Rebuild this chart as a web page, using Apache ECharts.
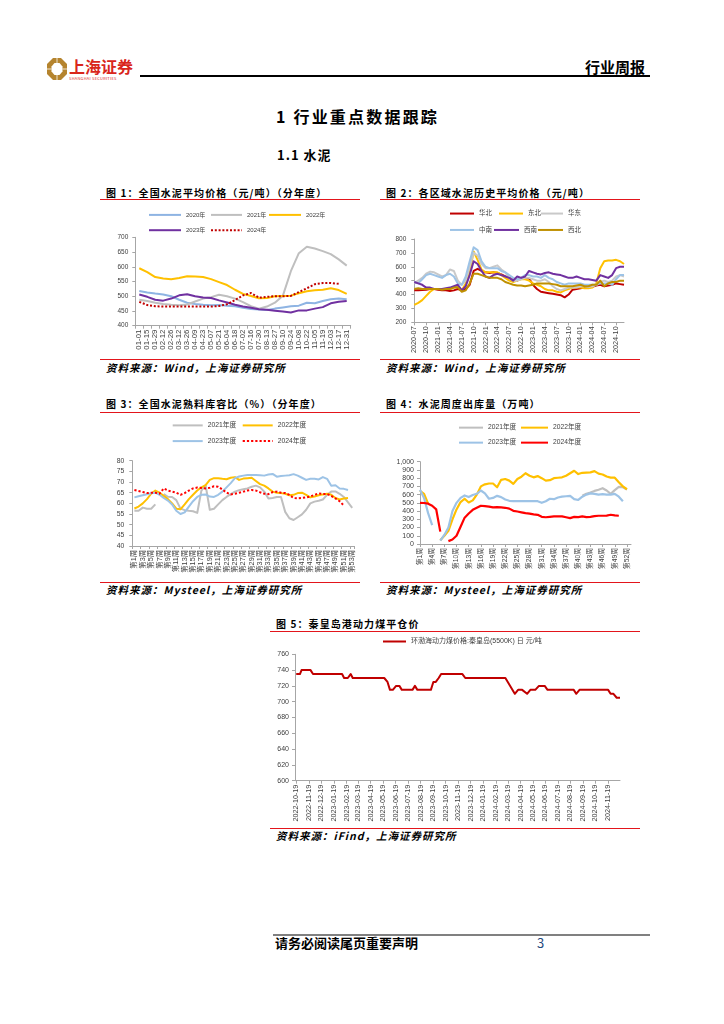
<!DOCTYPE html>
<html><head><meta charset="utf-8">
<script src="https://cdn.jsdelivr.net/npm/echarts@6/dist/echarts.min.js"></script>
<style>
html,body{margin:0;padding:0;background:#fff;}
body{width:724px;height:1024px;position:relative;overflow:hidden;font-family:"Noto Sans CJK SC","Noto Sans",sans-serif;color:#000;}
.t{position:absolute;white-space:nowrap;}
.cap{font-size:10px;font-weight:700;letter-spacing:1.1px;line-height:12px;}
.src{font-size:10.5px;font-weight:700;font-style:italic;letter-spacing:1px;line-height:12px;}
.rl{position:absolute;height:1px;background:#E3151B;}
.ch{position:absolute;}
</style></head><body>

<!-- header -->
<svg class="t" style="left:46px;top:57px" width="22" height="24" viewBox="0 0 22 24">
  <polygon points="7,1 15,1 21,7 21,17 15,23 7,23 1,17 1,7" fill="#B5842E"/>
  <polygon points="8.5,6 13.5,6 16.5,9.5 16.5,14.5 13.5,18 8.5,18 5.5,14.5 5.5,9.5" fill="#fff"/>
  <line x1="11" y1="1" x2="11" y2="6" stroke="#fff" stroke-width="0.8"/>
  <line x1="11" y1="18" x2="11" y2="23" stroke="#fff" stroke-width="0.8"/>
  <line x1="1" y1="12" x2="5.5" y2="12" stroke="#fff" stroke-width="0.8"/>
  <line x1="16.5" y1="12" x2="21" y2="12" stroke="#fff" stroke-width="0.8"/>
</svg>
<div class="t" style="left:69px;top:57px;font-size:16px;font-weight:700;color:#D9261C;line-height:18px;letter-spacing:0px">上海证券</div>
<div class="t" style="left:69px;top:75.5px;font-size:8px;color:#D9261C;line-height:8px;transform:scale(0.5);transform-origin:left top;letter-spacing:0.5px">SHANGHAI SECURITIES</div>
<div class="t" style="left:140px;top:75px;width:510px;height:2px;background:#000"></div>
<div class="t" style="left:585px;top:58px;font-size:15px;font-weight:700;line-height:18px">行业周报</div>

<!-- titles -->
<div class="t" style="left:276px;top:106px;font-size:16px;font-weight:700;line-height:20px;letter-spacing:2.2px">1 行业重点数据跟踪</div>
<div class="t" style="left:277px;top:147px;font-size:13px;font-weight:700;line-height:16px;letter-spacing:1px">1.1 水泥</div>

<!-- chart 1 frame -->
<div class="t cap" style="left:106px;top:186.5px">图 1：全国水泥平均价格（元/吨）（分年度）</div>
<div class="rl" style="left:100px;top:199px;width:260px"></div>
<div class="rl" style="left:100px;top:359px;width:260px"></div>
<div class="t src" style="left:106px;top:362px">资料来源：Wind，上海证券研究所</div>
<div id="c1" class="ch" style="left:100px;top:202px;width:260px;height:157px"></div>

<!-- chart 2 frame -->
<div class="t cap" style="left:386px;top:186.5px">图 2：各区域水泥历史平均价格（元/吨）</div>
<div class="rl" style="left:380px;top:199px;width:260px"></div>
<div class="rl" style="left:380px;top:359px;width:260px"></div>
<div class="t src" style="left:386px;top:362px">资料来源：Wind，上海证券研究所</div>
<div id="c2" class="ch" style="left:380px;top:202px;width:260px;height:157px"></div>

<!-- chart 3 frame -->
<div class="t cap" style="left:106px;top:398px">图 3：全国水泥熟料库容比（%）（分年度）</div>
<div class="rl" style="left:100px;top:411.5px;width:260px"></div>
<div class="rl" style="left:100px;top:581.5px;width:260px"></div>
<div class="t src" style="left:106px;top:584px">资料来源：Mysteel，上海证券研究所</div>
<div id="c3" class="ch" style="left:100px;top:414px;width:260px;height:167px"></div>

<!-- chart 4 frame -->
<div class="t cap" style="left:386px;top:398px">图 4：水泥周度出库量（万吨）</div>
<div class="rl" style="left:380px;top:411.5px;width:260px"></div>
<div class="rl" style="left:380px;top:581.5px;width:260px"></div>
<div class="t src" style="left:386px;top:584px">资料来源：Mysteel，上海证券研究所</div>
<div id="c4" class="ch" style="left:380px;top:414px;width:260px;height:167px"></div>

<!-- chart 5 frame -->
<div class="t cap" style="left:276px;top:618px">图 5：秦皇岛港动力煤平仓价</div>
<div class="rl" style="left:270px;top:630.5px;width:370px"></div>
<div class="rl" style="left:270px;top:828px;width:370px"></div>
<div class="t src" style="left:276px;top:830px">资料来源：iFind，上海证券研究所</div>
<div id="c5" class="ch" style="left:270px;top:632px;width:370px;height:196px"></div>

<!-- footer -->
<div class="t" style="left:273px;top:934px;width:377px;height:2px;background:#808080"></div>
<div class="t" style="left:275px;top:935px;font-size:13px;font-weight:700;line-height:16px">请务必阅读尾页重要声明</div>
<div class="t" style="left:537px;top:935px;font-size:13px;line-height:16px;color:#1F497D">3</div>

<script>
// ---------- Chart 1 data: 全国水泥平均价格（元/吨）----------
const c1Cats = ['01-01','01-15','01-29','02-12','02-26','03-12','03-26','04-09','04-23','05-07','05-21','06-04','06-18','07-02','07-16','07-30','08-13','08-27','09-10','09-24','10-08','10-22','11-05','11-19','12-03','12-17','12-31'];
const c1Names = ['2020年','2021年','2022年','2023年','2024年'];
const p2020 = [518,513,509,506,500,488,478,474,471,469,470,468,466,461,457,455,453,458,462,466,468,478,476,484,490,492,490];
const p2021 = [488,484,478,474,471,469,472,482,492,497,505,500,492,480,466,458,465,478,502,585,646,668,662,653,643,625,604];
const p2022 = [595,582,565,560,558,562,568,567,565,558,548,538,522,508,501,493,494,500,501,502,510,517,520,522,527,521,508];
const p2023 = [506,498,488,485,492,503,507,500,496,494,486,479,471,465,461,456,454,451,448,445,452,452,458,463,476,481,484];
const p2024 = [481,470,466,465,465,465,465,465,465,465,467,473,487,503,511,495,498,500,500,501,514,527,541,545,545,542,null];

// ---------- Chart 2 data: 各区域水泥历史平均价格（元/吨）, monthly 2020-07 .. 2024-12 ----------
const c2Cats = [];
for (let y = 2020; y <= 2024; y++) for (let m = 1; m <= 12; m++) { if (y === 2020 && m < 7) continue; c2Cats.push(y + '-' + String(m).padStart(2, '0')); }
const c2Names = ['华北','东北','华东','中南','西南','西北'];
const rHuabei = [430,430,432,435,440,440,435,430,430,425,430,440,430,440,470,570,585,570,560,555,560,555,545,530,520,505,500,520,520,515,470,440,420,415,410,405,400,395,380,400,435,440,445,450,455,455,465,470,460,465,470,480,475,470];
const rDongbei = [325,340,360,390,420,440,440,440,440,440,450,460,430,480,560,710,650,580,560,560,560,560,540,520,500,490,500,510,510,500,480,470,460,440,430,430,420,415,430,440,450,450,450,445,445,450,480,590,640,645,645,650,640,620];
const rHuadong = [480,500,520,550,565,560,545,530,540,580,570,500,470,500,600,700,680,620,590,590,600,610,580,560,520,500,500,510,520,520,510,500,500,510,490,460,440,430,440,450,450,450,460,460,455,460,470,490,500,490,500,530,540,530];
const rZhongnan = [490,480,510,540,550,540,530,520,540,550,530,480,470,530,640,740,720,640,600,590,590,590,570,560,540,520,510,520,540,540,530,530,520,540,520,510,490,480,470,480,480,480,480,470,470,470,470,480,480,480,470,510,540,540];
const rXinan = [490,480,470,450,450,440,440,440,445,450,460,470,430,460,540,640,620,570,530,520,540,550,540,530,520,500,530,520,530,570,560,550,545,555,560,550,545,540,530,520,520,530,520,510,510,505,500,540,530,520,540,590,600,600];
const rXibei = [440,445,440,440,440,440,440,435,440,440,450,450,420,430,480,550,550,540,530,520,520,520,510,490,480,470,465,465,460,465,470,480,480,480,480,475,470,460,460,460,460,465,470,460,460,470,470,500,460,480,490,490,500,500];

// ---------- Chart 3 data: 全国水泥熟料库容比（%）, weeks 1..53 ----------
const weekCats = [];
for (let w = 1; w <= 53; w++) weekCats.push('第' + w + '周');
const c3Names = ['2021年度','2022年度','2023年度','2024年度'];
const k2021 = [56.5,56.5,58,57.5,57.5,59.5,null,64.4,63.1,63,61.5,57.5,56.8,56.5,56.3,55.5,66,68.5,57,57.5,59.5,61.5,63,64.3,65.5,66.2,66.6,67,67.8,68.3,67.5,65.5,62.3,62.5,63,63,56,53,52.2,53.5,54.8,57,60,60.8,61.2,61.8,64,65.5,65.6,64.5,63,60.5,57.9];
const k2022 = [57.6,58.5,60,62,64.5,66,65,63.5,62,60,57.5,57.2,59.5,62,64,66,67.5,68.5,71,71.8,71.8,71.5,71.3,72,72.3,71,71.6,71.8,72,70.5,69,68.3,67,65.5,65,64.8,64.5,63.8,64,64.8,65,64,62.8,63.2,63.8,64.2,64.5,64,62.5,61.8,62.3,62.5,null];
const k2023 = [62.8,63.3,63.8,64.3,64.7,65,64,62.5,61.3,59.5,56.5,55,55.8,58.5,61,63,64,64.2,63.2,63,64,65.5,67.5,69.5,71.8,72.6,73,73.3,73.3,73.3,73.2,73,73.5,73.8,72.5,72.8,73,73.2,73.7,73,72,71,71.5,71.5,71.2,72.3,71.5,68.3,68.5,67,66.8,66.3,null];
const k2024 = [66.3,65.8,65.3,64.8,65,65,64.5,67,66,65.5,65,64,64.8,66,67,67.4,67.2,67,67.3,68,67.8,66.5,65,64.2,64.5,65,65.5,66,66.3,66,65.2,64.5,64.3,65.3,65.5,65,64.8,64,62.5,62.3,62.5,62.8,63.2,64,64.6,64.4,64.4,63.5,62.3,61,59,null,null];

// ---------- Chart 4 data: 水泥周度出库量（万吨）, weeks 1..53 ----------
const c4Names = ['2021年度','2022年度','2023年度','2024年度'];
const s2021 = [null,null,null,null,null,null,null,null,null,null,null,null,null,null,null,null,null,null,null,null,null,null,null,null,null,null,null,null,null,null,null,null,null,null,null,null,null,null,null,null,585,610,625,645,660,678,650,610,655,695,690,660,null];
const s2022 = [645,610,490,null,null,45,100,160,300,420,510,550,505,530,600,700,725,735,735,690,780,790,770,730,790,818,860,830,810,825,800,770,775,800,805,810,830,860,890,850,865,867,870,885,855,845,820,806,806,750,700,665,null];
const s2023 = [660,560,375,230,null,40,110,200,400,500,560,590,570,595,610,650,615,550,560,585,570,540,525,520,520,520,520,520,520,520,500,520,550,545,565,575,580,585,545,535,575,600,615,610,600,605,600,600,610,575,520,null,null];
const s2024 = [500,498,490,465,420,150,null,35,55,100,210,320,370,415,440,465,460,455,445,448,445,440,430,403,395,385,375,370,360,355,330,325,330,335,335,335,325,315,330,327,335,327,330,338,343,343,345,355,347,343,null,null,null];

// ---------- Chart 5 data: 秦皇岛港动力煤平仓价 ----------
const c5Name = '环渤海动力煤价格:秦皇岛(5500K) 日 元/吨';
const coalDates = ['2022-10-19','2022-10-28','2022-11-01','2022-11-23','2022-11-29','2023-02-08','2023-02-13','2023-02-22','2023-03-01','2023-03-06','2023-05-22','2023-05-30','2023-06-05','2023-06-12','2023-06-20','2023-06-28','2023-07-04','2023-07-30','2023-08-05','2023-08-11','2023-09-13','2023-09-19','2023-09-25','2023-10-02','2023-10-08','2023-11-29','2023-12-06','2024-03-13','2024-04-05','2024-04-13','2024-04-23','2024-05-05','2024-05-13','2024-05-25','2024-06-03','2024-06-17','2024-06-24','2024-08-27','2024-09-02','2024-09-10','2024-11-19','2024-11-25','2024-12-02','2024-12-10','2024-12-18'];
const coalPrices = [735,735,740,740,735,735,730,730,735,730,730,725,715,715,720,720,715,715,720,715,715,725,725,730,735,735,730,730,710,715,715,710,715,715,720,720,715,715,710,715,715,710,710,705,705];
const c5Ticks = ['2022-10-19','2022-11-19','2022-12-19','2023-01-19','2023-02-19','2023-03-19','2023-04-19','2023-05-19','2023-06-19','2023-07-19','2023-08-19','2023-09-19','2023-10-19','2023-11-19','2023-12-19','2024-01-19','2024-02-19','2024-03-19','2024-04-19','2024-05-19','2024-06-19','2024-07-19','2024-08-19','2024-09-19','2024-10-19','2024-11-19'];

// ---------- helpers ----------
const FONT = '"Liberation Sans", "Noto Sans CJK SC", sans-serif';
const AX = '#A6A6A6';
const LBL = '#404040';
function lg(name, left, cy, w, fs) {
  return { data: [name], left: left, top: cy - 4, itemWidth: w, itemHeight: 8, padding: 0, itemGap: 0,
    selectedMode: false, itemStyle: { opacity: 0 }, textStyle: { fontSize: fs, color: LBL, fontFamily: FONT } };
}
function line(name, data, color, width, type, z) {
  return { name: name, type: 'line', data: data, symbol: 'none', showSymbol: false, connectNulls: false, z: z || 2,
    lineStyle: { color: color, width: width, type: type || 'solid', cap: 'butt', join: 'round' }, itemStyle: { color: color } };
}
function catX(cats, bg, interval, fs, margin) {
  return { type: 'category', data: cats, boundaryGap: bg,
    axisLine: { lineStyle: { color: AX, width: 1 } },
    axisTick: { show: true, lineStyle: { color: AX }, length: 3 },
    axisLabel: { rotate: 90, interval: interval, fontSize: fs, color: LBL, fontFamily: FONT, margin: margin } };
}
function valY(min, max, step, fs, margin, fmt) {
  return { type: 'value', min: min, max: max, interval: step,
    splitLine: { show: false },
    axisLine: { show: true, lineStyle: { color: AX, width: 1 } },
    axisTick: { show: true, lineStyle: { color: AX }, length: 3 },
    axisLabel: { fontSize: fs, color: LBL, fontFamily: FONT, margin: margin, formatter: fmt } };
}
const DAY = 86400000;
function utc(s) { const p = s.split('-').map(Number); return Date.UTC(p[0], p[1] - 1, p[2]); }
const day0 = utc('2022-10-16');
function dayOf(s) { return Math.round((utc(s) - day0) / DAY); }
function pad(n) { return String(n).padStart(2, '0'); }
function dateOf(v) { const d = new Date(day0 + Math.round(v) * DAY); return d.getUTCFullYear() + '-' + pad(d.getUTCMonth() + 1) + '-' + pad(d.getUTCDate()); }

// ---------- Chart 1 ----------
echarts.init(document.getElementById('c1')).setOption({
  animation: false,
  grid: { left: 35.3, right: 9.3, top: 35.3, bottom: 33.3 },
  legend: [lg(c1Names[0], 48, 13.7, 32, 6), lg(c1Names[1], 110, 13.7, 31, 6), lg(c1Names[2], 168, 13.7, 32, 6),
           lg(c1Names[3], 48, 29, 32, 6), lg(c1Names[4], 110, 29, 31, 6)],
  xAxis: catX(c1Cats, true, 0, 7.8, 4),
  yAxis: valY(400, 700, 50, 6.5, 7),
  series: [
    line(c1Names[0], p2020, '#8EB4E3', 2),
    line(c1Names[1], p2021, '#BFBFBF', 2),
    line(c1Names[2], p2022, '#FFC000', 2),
    line(c1Names[3], p2023, '#7030A0', 2),
    line(c1Names[4], p2024, '#C00000', 2, [2, 1.8])
  ]
});

// ---------- Chart 2 ----------
echarts.init(document.getElementById('c2')).setOption({
  animation: false,
  grid: { left: 34.3, right: 16, top: 37, bottom: 36.7 },
  legend: [lg(c2Names[0], 69, 12.3, 24, 6.5), lg(c2Names[1], 118, 12.3, 24, 6.5), lg(c2Names[2], 160, 12.3, 22, 6.5),
           lg(c2Names[3], 69, 28.7, 24, 6.5), lg(c2Names[4], 113, 28.7, 25, 6.5), lg(c2Names[5], 157, 28.7, 25, 6.5)],
  xAxis: catX(c2Cats, false, 2, 7.3, 4),
  yAxis: valY(200, 800, 100, 6.5, 8),
  series: [
    line(c2Names[0], rHuabei, '#C00000', 2),
    line(c2Names[1], rDongbei, '#FFC000', 2),
    line(c2Names[2], rHuadong, '#C9C9C9', 2),
    line(c2Names[3], rZhongnan, '#9DC3E6', 2),
    line(c2Names[4], rXinan, '#7030A0', 2),
    line(c2Names[5], rXibei, '#BF9000', 2)
  ]
});

// ---------- Chart 3 ----------
echarts.init(document.getElementById('c3')).setOption({
  animation: false,
  grid: { left: 32.3, right: 5.7, top: 46.7, bottom: 35 },
  legend: [lg(c3Names[0], 71.7, 12, 30, 6.8), lg(c3Names[1], 141.7, 12, 30, 6.8),
           lg(c3Names[2], 71.7, 27.7, 30, 6.8), lg(c3Names[3], 141.7, 27.7, 30, 6.8)],
  xAxis: catX(weekCats, true, 1, 7.3, 4),
  yAxis: valY(40, 80, 5, 6.8, 8),
  series: [
    line(c3Names[0], k2021, '#BFBFBF', 2),
    line(c3Names[1], k2022, '#FFC000', 2),
    line(c3Names[2], k2023, '#9DC3E6', 2),
    line(c3Names[3], k2024, '#FF0000', 2, [2.2, 2])
  ]
});

// ---------- Chart 4 ----------
echarts.init(document.getElementById('c4')).setOption({
  animation: false,
  grid: { left: 40, right: 9, top: 47.7, bottom: 37 },
  legend: [lg(c4Names[0], 78, 14.3, 24, 6.7), lg(c4Names[1], 140, 14.3, 27, 6.7),
           lg(c4Names[2], 78, 29.3, 24, 6.7), lg(c4Names[3], 140, 29.3, 27, 6.7)],
  xAxis: catX(weekCats, false, 2, 6.8, 4),
  yAxis: valY(0, 1000, 100, 7, 6, function (v) { return v.toLocaleString('en-US'); }),
  series: [
    line(c4Names[0], s2021, '#BFBFBF', 2.2),
    line(c4Names[1], s2022, '#FFC000', 2.2),
    line(c4Names[2], s2023, '#9DC3E6', 2.2),
    line(c4Names[3], s2024, '#FF0000', 2.2)
  ]
});

// ---------- Chart 5 (x = days since 2022-10-16) ----------
const tickDays = c5Ticks.map(dayOf);
echarts.init(document.getElementById('c5')).setOption({
  animation: false,
  grid: { left: 25, right: 20, top: 22.3, bottom: 47.3 },
  legend: [lg(c5Name, 112, 10, 23, 7)],
  xAxis: {
    type: 'value', min: 0, max: dayOf('2024-12-18'),
    splitLine: { show: false },
    axisLine: { lineStyle: { color: AX, width: 1 } },
    axisTick: { show: true, customValues: tickDays, lineStyle: { color: AX }, length: 3 },
    axisLabel: { customValues: tickDays, rotate: 90, fontSize: 7.2, color: LBL, fontFamily: FONT, margin: 4, hideOverlap: false,
      formatter: function (v) { return dateOf(v); } }
  },
  yAxis: valY(600, 760, 20, 7, 6),
  series: [ line(c5Name, coalDates.map(function (d, i) { return [dayOf(d), coalPrices[i]]; }), '#C00000', 2) ]
});
</script>
</body></html>
